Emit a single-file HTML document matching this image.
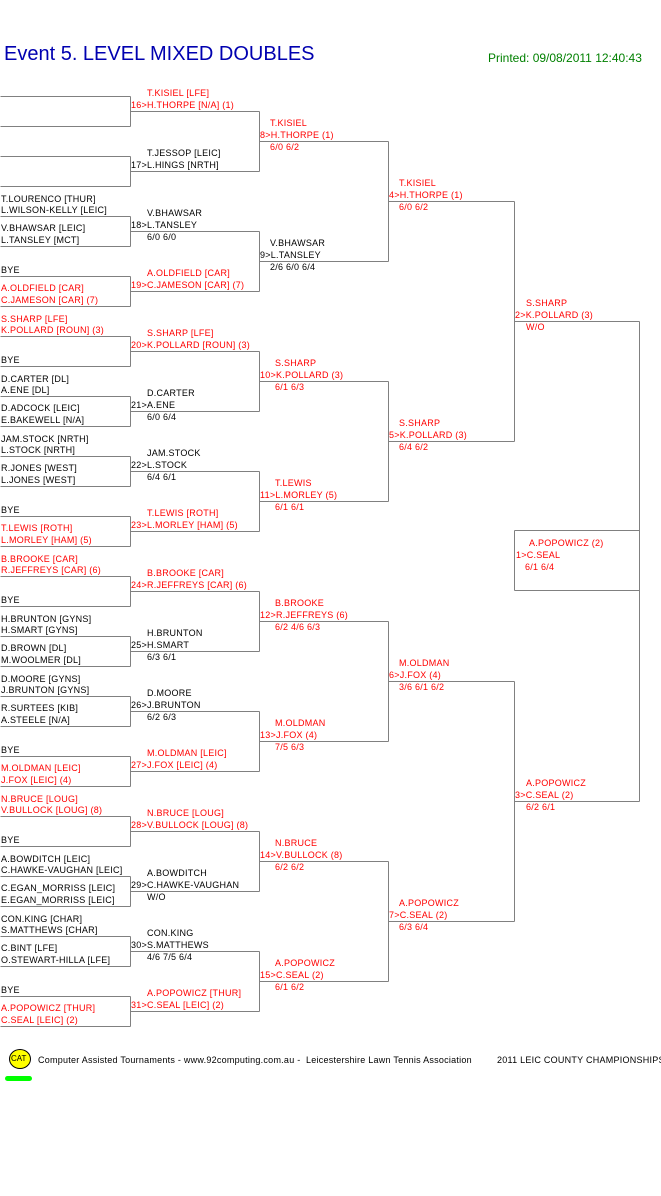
<!DOCTYPE html>
<html><head><meta charset="utf-8"><style>
body{margin:0;background:#fff;width:661px;height:1196px;position:relative;overflow:hidden}
.t{position:absolute;font-family:"Liberation Sans",sans-serif;font-size:9px;line-height:11px;white-space:nowrap;color:#000;letter-spacing:0.25px}
.r{color:#f00}
svg{position:absolute;left:0;top:0}
</style></head><body>
<div class="t" style="left:4px;top:42px;font-size:20px;line-height:24px;color:#0000b0;letter-spacing:0">Event 5. LEVEL MIXED DOUBLES</div>
<div class="t" style="left:488px;top:51px;font-size:12px;line-height:14px;color:#008000;letter-spacing:0">Printed: 09/08/2011 12:40:43</div>
<svg width="661" height="1196" shape-rendering="crispEdges">
<g stroke="#808080" stroke-width="1" fill="none" id="g"></g>
</svg>
<script>
var g=document.getElementById('g'),s='';
function L(x1,y1,x2,y2){s+='<line x1="'+(x1+.5)+'" y1="'+(y1+.5)+'" x2="'+(x2+.5)+'" y2="'+(y2+.5)+'"/>';}
for(var k=0;k<16;k++){var T=96+60*k,B=T+30;L(0,T,130,T);L(0,B,130,B);L(130,T,130,B);L(130,T+15,259,T+15);}
for(var k=0;k<8;k++){var a=111+120*k;L(259,a,259,a+60);L(259,a+30,388,a+30);}
for(var k=0;k<4;k++){var a=141+240*k;L(388,a,388,a+120);L(388,a+60,514,a+60);}
for(var k=0;k<2;k++){var a=201+480*k;L(514,a,514,a+240);L(514,a+120,639,a+120);}
L(639,321,639,801);L(514,530,639,530);L(514,590,639,590);L(514,530,514,590);
g.innerHTML=s;
</script>
<!-- R1 -->
<div class="t" style="left:1px;top:193.5px">T.LOURENCO [THUR]</div><div class="t" style="left:1px;top:204.5px">L.WILSON-KELLY [LEIC]</div>
<div class="t" style="left:1px;top:222.5px">V.BHAWSAR [LEIC]</div><div class="t" style="left:1px;top:234.5px">L.TANSLEY [MCT]</div>
<div class="t" style="left:1px;top:264.5px">BYE</div>
<div class="t r" style="left:1px;top:282.5px">A.OLDFIELD [CAR]</div><div class="t r" style="left:1px;top:294.5px">C.JAMESON [CAR] (7)</div>
<div class="t r" style="left:1px;top:313.5px">S.SHARP [LFE]</div><div class="t r" style="left:1px;top:324.5px">K.POLLARD [ROUN] (3)</div>
<div class="t" style="left:1px;top:354.5px">BYE</div>
<div class="t" style="left:1px;top:373.5px">D.CARTER [DL]</div><div class="t" style="left:1px;top:384.5px">A.ENE [DL]</div>
<div class="t" style="left:1px;top:402.5px">D.ADCOCK [LEIC]</div><div class="t" style="left:1px;top:414.5px">E.BAKEWELL [N/A]</div>
<div class="t" style="left:1px;top:433.5px">JAM.STOCK [NRTH]</div><div class="t" style="left:1px;top:444.5px">L.STOCK [NRTH]</div>
<div class="t" style="left:1px;top:462.5px">R.JONES [WEST]</div><div class="t" style="left:1px;top:474.5px">L.JONES [WEST]</div>
<div class="t" style="left:1px;top:504.5px">BYE</div>
<div class="t r" style="left:1px;top:522.5px">T.LEWIS [ROTH]</div><div class="t r" style="left:1px;top:534.5px">L.MORLEY [HAM] (5)</div>
<div class="t r" style="left:1px;top:553.5px">B.BROOKE [CAR]</div><div class="t r" style="left:1px;top:564.5px">R.JEFFREYS [CAR] (6)</div>
<div class="t" style="left:1px;top:594.5px">BYE</div>
<div class="t" style="left:1px;top:613.5px">H.BRUNTON [GYNS]</div><div class="t" style="left:1px;top:624.5px">H.SMART [GYNS]</div>
<div class="t" style="left:1px;top:642.5px">D.BROWN [DL]</div><div class="t" style="left:1px;top:654.5px">M.WOOLMER [DL]</div>
<div class="t" style="left:1px;top:673.5px">D.MOORE [GYNS]</div><div class="t" style="left:1px;top:684.5px">J.BRUNTON [GYNS]</div>
<div class="t" style="left:1px;top:702.5px">R.SURTEES [KIB]</div><div class="t" style="left:1px;top:714.5px">A.STEELE [N/A]</div>
<div class="t" style="left:1px;top:744.5px">BYE</div>
<div class="t r" style="left:1px;top:762.5px">M.OLDMAN [LEIC]</div><div class="t r" style="left:1px;top:774.5px">J.FOX [LEIC] (4)</div>
<div class="t r" style="left:1px;top:793.5px">N.BRUCE [LOUG]</div><div class="t r" style="left:1px;top:804.5px">V.BULLOCK [LOUG] (8)</div>
<div class="t" style="left:1px;top:834.5px">BYE</div>
<div class="t" style="left:1px;top:853.5px">A.BOWDITCH [LEIC]</div><div class="t" style="left:1px;top:864.5px">C.HAWKE-VAUGHAN [LEIC]</div>
<div class="t" style="left:1px;top:882.5px">C.EGAN_MORRISS [LEIC]</div><div class="t" style="left:1px;top:894.5px">E.EGAN_MORRISS [LEIC]</div>
<div class="t" style="left:1px;top:913.5px">CON.KING [CHAR]</div><div class="t" style="left:1px;top:924.5px">S.MATTHEWS [CHAR]</div>
<div class="t" style="left:1px;top:942.5px">C.BINT [LFE]</div><div class="t" style="left:1px;top:954.5px">O.STEWART-HILLA [LFE]</div>
<div class="t" style="left:1px;top:984.5px">BYE</div>
<div class="t r" style="left:1px;top:1002.5px">A.POPOWICZ [THUR]</div><div class="t r" style="left:1px;top:1014.5px">C.SEAL [LEIC] (2)</div>
<!-- R2 -->
<div class="t r" style="left:147px;top:87.5px">T.KISIEL [LFE]</div><div class="t r" style="left:131px;top:99.5px">16&gt;H.THORPE [N/A] (1)</div>
<div class="t" style="left:147px;top:147.5px">T.JESSOP [LEIC]</div><div class="t" style="left:131px;top:159.5px">17&gt;L.HINGS [NRTH]</div>
<div class="t" style="left:147px;top:207.5px">V.BHAWSAR</div><div class="t" style="left:131px;top:219.5px">18&gt;L.TANSLEY</div><div class="t" style="left:147px;top:231.5px">6/0 6/0</div>
<div class="t r" style="left:147px;top:267.5px">A.OLDFIELD [CAR]</div><div class="t r" style="left:131px;top:279.5px">19&gt;C.JAMESON [CAR] (7)</div>
<div class="t r" style="left:147px;top:327.5px">S.SHARP [LFE]</div><div class="t r" style="left:131px;top:339.5px">20&gt;K.POLLARD [ROUN] (3)</div>
<div class="t" style="left:147px;top:387.5px">D.CARTER</div><div class="t" style="left:131px;top:399.5px">21&gt;A.ENE</div><div class="t" style="left:147px;top:411.5px">6/0 6/4</div>
<div class="t" style="left:147px;top:447.5px">JAM.STOCK</div><div class="t" style="left:131px;top:459.5px">22&gt;L.STOCK</div><div class="t" style="left:147px;top:471.5px">6/4 6/1</div>
<div class="t r" style="left:147px;top:507.5px">T.LEWIS [ROTH]</div><div class="t r" style="left:131px;top:519.5px">23&gt;L.MORLEY [HAM] (5)</div>
<div class="t r" style="left:147px;top:567.5px">B.BROOKE [CAR]</div><div class="t r" style="left:131px;top:579.5px">24&gt;R.JEFFREYS [CAR] (6)</div>
<div class="t" style="left:147px;top:627.5px">H.BRUNTON</div><div class="t" style="left:131px;top:639.5px">25&gt;H.SMART</div><div class="t" style="left:147px;top:651.5px">6/3 6/1</div>
<div class="t" style="left:147px;top:687.5px">D.MOORE</div><div class="t" style="left:131px;top:699.5px">26&gt;J.BRUNTON</div><div class="t" style="left:147px;top:711.5px">6/2 6/3</div>
<div class="t r" style="left:147px;top:747.5px">M.OLDMAN [LEIC]</div><div class="t r" style="left:131px;top:759.5px">27&gt;J.FOX [LEIC] (4)</div>
<div class="t r" style="left:147px;top:807.5px">N.BRUCE [LOUG]</div><div class="t r" style="left:131px;top:819.5px">28&gt;V.BULLOCK [LOUG] (8)</div>
<div class="t" style="left:147px;top:867.5px">A.BOWDITCH</div><div class="t" style="left:131px;top:879.5px">29&gt;C.HAWKE-VAUGHAN</div><div class="t" style="left:147px;top:891.5px">W/O</div>
<div class="t" style="left:147px;top:927.5px">CON.KING</div><div class="t" style="left:131px;top:939.5px">30&gt;S.MATTHEWS</div><div class="t" style="left:147px;top:951.5px">4/6 7/5 6/4</div>
<div class="t r" style="left:147px;top:987.5px">A.POPOWICZ [THUR]</div><div class="t r" style="left:131px;top:999.5px">31&gt;C.SEAL [LEIC] (2)</div>
<!-- R3 -->
<div class="t r" style="left:270px;top:117.5px">T.KISIEL</div><div class="t r" style="left:260px;top:129.5px">8&gt;H.THORPE (1)</div><div class="t r" style="left:270px;top:141.5px">6/0 6/2</div>
<div class="t" style="left:270px;top:237.5px">V.BHAWSAR</div><div class="t" style="left:260px;top:249.5px">9&gt;L.TANSLEY</div><div class="t" style="left:270px;top:261.5px">2/6 6/0 6/4</div>
<div class="t r" style="left:275px;top:357.5px">S.SHARP</div><div class="t r" style="left:260px;top:369.5px">10&gt;K.POLLARD (3)</div><div class="t r" style="left:275px;top:381.5px">6/1 6/3</div>
<div class="t r" style="left:275px;top:477.5px">T.LEWIS</div><div class="t r" style="left:260px;top:489.5px">11&gt;L.MORLEY (5)</div><div class="t r" style="left:275px;top:501.5px">6/1 6/1</div>
<div class="t r" style="left:275px;top:597.5px">B.BROOKE</div><div class="t r" style="left:260px;top:609.5px">12&gt;R.JEFFREYS (6)</div><div class="t r" style="left:275px;top:621.5px">6/2 4/6 6/3</div>
<div class="t r" style="left:275px;top:717.5px">M.OLDMAN</div><div class="t r" style="left:260px;top:729.5px">13&gt;J.FOX (4)</div><div class="t r" style="left:275px;top:741.5px">7/5 6/3</div>
<div class="t r" style="left:275px;top:837.5px">N.BRUCE</div><div class="t r" style="left:260px;top:849.5px">14&gt;V.BULLOCK (8)</div><div class="t r" style="left:275px;top:861.5px">6/2 6/2</div>
<div class="t r" style="left:275px;top:957.5px">A.POPOWICZ</div><div class="t r" style="left:260px;top:969.5px">15&gt;C.SEAL (2)</div><div class="t r" style="left:275px;top:981.5px">6/1 6/2</div>
<!-- R4 -->
<div class="t r" style="left:399px;top:177.5px">T.KISIEL</div><div class="t r" style="left:389px;top:189.5px">4&gt;H.THORPE (1)</div><div class="t r" style="left:399px;top:201.5px">6/0 6/2</div>
<div class="t r" style="left:399px;top:417.5px">S.SHARP</div><div class="t r" style="left:389px;top:429.5px">5&gt;K.POLLARD (3)</div><div class="t r" style="left:399px;top:441.5px">6/4 6/2</div>
<div class="t r" style="left:399px;top:657.5px">M.OLDMAN</div><div class="t r" style="left:389px;top:669.5px">6&gt;J.FOX (4)</div><div class="t r" style="left:399px;top:681.5px">3/6 6/1 6/2</div>
<div class="t r" style="left:399px;top:897.5px">A.POPOWICZ</div><div class="t r" style="left:389px;top:909.5px">7&gt;C.SEAL (2)</div><div class="t r" style="left:399px;top:921.5px">6/3 6/4</div>
<!-- R5 -->
<div class="t r" style="left:526px;top:297.5px">S.SHARP</div><div class="t r" style="left:515px;top:309.5px">2&gt;K.POLLARD (3)</div><div class="t r" style="left:526px;top:321.5px">W/O</div>
<div class="t r" style="left:526px;top:777.5px">A.POPOWICZ</div><div class="t r" style="left:515px;top:789.5px">3&gt;C.SEAL (2)</div><div class="t r" style="left:526px;top:801.5px">6/2 6/1</div>
<!-- Final -->
<div class="t r" style="left:529px;top:537.5px">A.POPOWICZ (2)</div><div class="t r" style="left:516px;top:549.5px">1&gt;C.SEAL</div><div class="t r" style="left:525px;top:561.5px">6/1 6/4</div>
<!-- Footer -->
<div style="position:absolute;left:9px;top:1049px;width:20px;height:18px;border-radius:50%;background:#ff0;border:1px solid #000"></div>
<div class="t" style="left:11px;top:1053px;font-size:8px;letter-spacing:0">CAT</div>
<div style="position:absolute;left:5px;top:1076px;width:27px;height:5px;border-radius:3px;background:#0f0"></div>
<div class="t" style="left:38px;top:1055px">Computer Assisted Tournaments - www.92computing.com.au -&nbsp; Leicestershire Lawn Tennis Association</div>
<div class="t" style="left:497px;top:1055px">2011 LEIC COUNTY CHAMPIONSHIPS</div>
</body></html>
